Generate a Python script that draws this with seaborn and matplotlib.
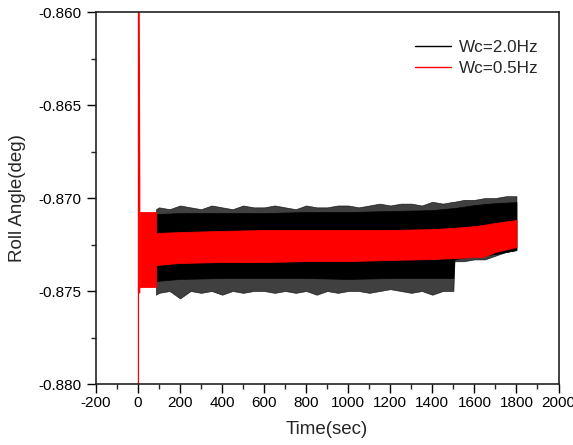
import numpy as np
import pandas as pd
import matplotlib
matplotlib.use("Agg")
import matplotlib.pyplot as plt
from matplotlib.lines import Line2D
from matplotlib.ticker import MultipleLocator
import seaborn as sns

# ---------------- data ----------------
# Wc=2.0Hz (black) dense band
black_t = [85, 200, 400, 600, 800, 1000, 1200, 1400, 1500, 1505, 1600, 1700, 1800]
black_hi = [-0.87086, -0.87081, -0.87081, -0.87081, -0.87075, -0.87075, -0.87070,
            -0.87065, -0.87054, -0.87054, -0.87038, -0.87027, -0.87022]
black_lo = [-0.87446, -0.87435, -0.87430, -0.87430, -0.87430, -0.87435, -0.87430,
            -0.87430, -0.87430, -0.87328, -0.87312, -0.87301, -0.87280]

# Wc=2.0Hz (black) spike envelope
black_spk_t = [85, 100, 150, 200, 250, 300, 350, 400, 450, 500, 550, 600, 650, 700, 750,
               800, 850, 900, 950, 1000, 1050, 1100, 1150, 1200, 1250, 1300, 1350,
               1400, 1450, 1500, 1505, 1550, 1600, 1650, 1700, 1750, 1800]
black_spk_hi = [-0.8706, -0.8705, -0.8706, -0.8704, -0.8705, -0.8706, -0.8704, -0.8705,
                -0.8706, -0.8704, -0.8705, -0.8705, -0.8704, -0.8705, -0.8706, -0.8704,
                -0.8705, -0.8705, -0.8704, -0.8704, -0.8705, -0.8704, -0.8703, -0.8704,
                -0.8703, -0.8703, -0.8704, -0.8702, -0.8703, -0.8702, -0.8702, -0.8701,
                -0.8701, -0.8700, -0.8700, -0.8699, -0.8699]
black_spk_lo = [-0.8752, -0.8751, -0.8750, -0.8754, -0.8750, -0.8751, -0.8750, -0.8752,
                -0.8750, -0.8751, -0.8750, -0.8750, -0.8751, -0.8750, -0.8751, -0.8750,
                -0.8752, -0.8750, -0.8751, -0.8750, -0.8750, -0.8751, -0.8750, -0.8749,
                -0.8750, -0.8751, -0.8750, -0.8752, -0.8750, -0.8750, -0.8734, -0.8734,
                -0.8733, -0.8733, -0.8731, -0.8729, -0.8728]

# Wc=0.5Hz (red) dense band
red_t = [8, 85, 86, 200, 400, 600, 800, 1000, 1200, 1400, 1500, 1600, 1640, 1700, 1800]
red_hi = [-0.87075, -0.87075, -0.87188, -0.87183, -0.87177, -0.87172, -0.87172, -0.87172,
          -0.87172, -0.87167, -0.87161, -0.87151, -0.87145, -0.87134, -0.87118]
red_lo = [-0.87478, -0.87478, -0.87360, -0.87349, -0.87344, -0.87344, -0.87339, -0.87339,
          -0.87333, -0.87328, -0.87323, -0.87317, -0.87317, -0.87290, -0.87263]

# Wc=0.5Hz initial transient (spike at start, runs off scale)
red_spike_t = [2, 2, 8, 8]
red_spike_v = [-0.8900, -0.8500, -0.8693, -0.8751]

labels = ["Wc=2.0Hz", "Wc=0.5Hz"]
colors = ["#000000", "#ff0000"]

xticks = [-200, 0, 200, 400, 600, 800, 1000, 1200, 1400, 1600, 1800, 2000]
yticks = [-0.880, -0.875, -0.870, -0.865, -0.860]

# ---------------- figure ----------------
sns.set_style("ticks")
plt.rcParams["font.family"] = ["Liberation Sans", "DejaVu Sans"]
plt.rcParams["axes.unicode_minus"] = False

fig = plt.figure(figsize=(5.73, 4.45), dpi=100)
ax = fig.add_axes([0.1675, 0.137, 0.8072, 0.836])

# black band
ax.fill_between(black_spk_t, black_spk_lo, black_spk_hi, color=colors[0], lw=0.5, alpha=0.75)
ax.fill_between(black_t, black_lo, black_hi, color=colors[0], lw=0.5)

# red band
ax.fill_between(red_t, red_lo, red_hi, color=colors[1], lw=0.6)
spk = pd.DataFrame({"t": red_spike_t, "v": red_spike_v})
sns.lineplot(data=spk, x="t", y="v", sort=False, estimator=None, color=colors[1],
             lw=0.9, ax=ax, legend=False)

ax.set_xlim(-200, 2000)
ax.set_ylim(-0.880, -0.860)
ax.set_xticks(xticks)
ax.set_xticklabels([str(v) for v in xticks])
ax.set_yticks(yticks)
ax.set_yticklabels([f"{v:.3f}" for v in yticks])
ax.xaxis.set_minor_locator(MultipleLocator(100))
ax.yaxis.set_minor_locator(MultipleLocator(0.0025))
ax.tick_params(axis="both", which="major", direction="out", length=6.5, width=1.0,
               labelsize=11, colors="#000000", pad=4)
ax.tick_params(axis="x", which="major", pad=2)
ax.tick_params(axis="both", which="minor", direction="out", length=3.5, width=1.0)
ax.tick_params(top=False, right=False, which="both")
for s in ax.spines.values():
    s.set_visible(True)
    s.set_linewidth(1.2)
    s.set_color("#222222")

ax.set_xlabel("Time(sec)", fontsize=13.5, labelpad=8)
ax.set_ylabel("Roll Angle(deg)", fontsize=13.5, labelpad=9)

handles = [Line2D([0], [0], color=c, lw=1.0) for c in colors]
ax.legend(handles, labels, loc="upper right", bbox_to_anchor=(0.99, 0.965),
          frameon=False, fontsize=12.3, handlelength=2.1, handletextpad=0.45,
          labelspacing=0.3)

fig.savefig("out.png", dpi=100)
